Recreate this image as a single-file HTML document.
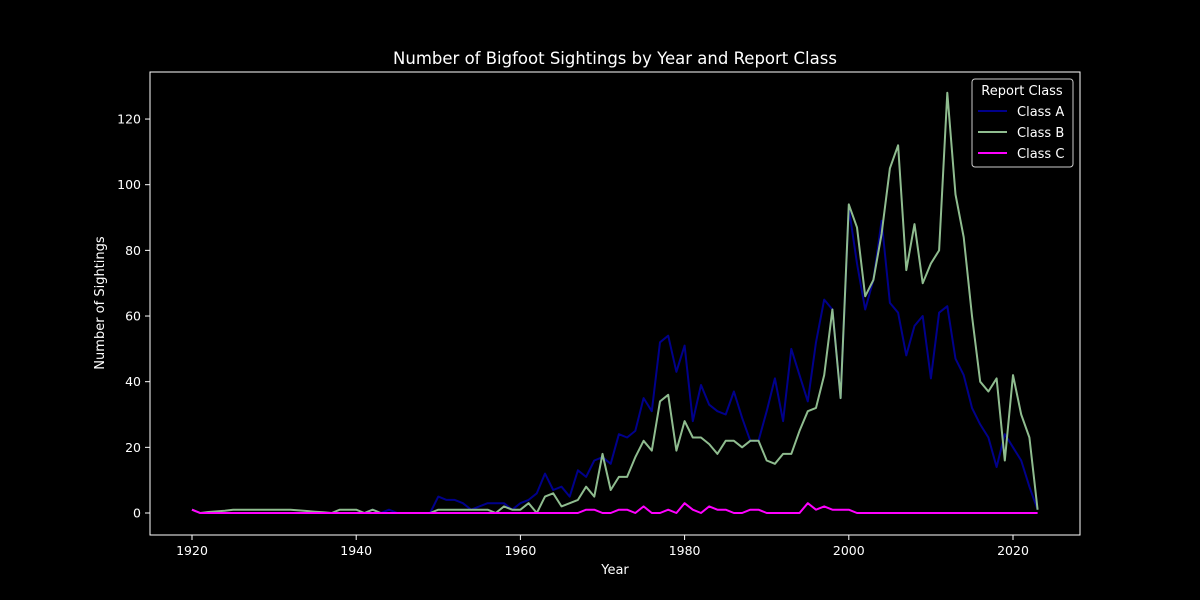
<!DOCTYPE html>
<html><head><meta charset="utf-8"><style>
html,body{margin:0;padding:0;background:#000;}
svg{display:block;font-family:"DejaVu Sans","Liberation Sans",sans-serif;}
</style></head><body>
<svg id="chart" width="1200" height="600" viewBox="0 0 1200 600">
<rect width="1200" height="600" fill="#000"/>
<text x="615" y="64" fill="#fff" font-size="16.5" text-anchor="middle">Number of Bigfoot Sightings by Year and Report Class</text>
<g id="ticks"></g>
<g id="series"></g>
<rect x="150" y="72" width="930" height="463" fill="none" stroke="#fff" stroke-width="1"/>
<text x="615" y="574" fill="#fff" font-size="13" text-anchor="middle">Year</text>
<text x="104" y="303" fill="#fff" font-size="13" text-anchor="middle" transform="rotate(-90 104 303)">Number of Sightings</text>
<g>
<rect x="972" y="79" width="101" height="88" rx="3" fill="#000" stroke="#ccc" stroke-width="1"/>
<text x="1022" y="95" fill="#fff" font-size="13" text-anchor="middle">Report Class</text>
<line x1="978" y1="111" x2="1007" y2="111" stroke="#00008b" stroke-width="2"/>
<text x="1017" y="116" fill="#fff" font-size="13">Class A</text>
<line x1="978" y1="132" x2="1007" y2="132" stroke="#8fbc8f" stroke-width="2"/>
<text x="1017" y="137" fill="#fff" font-size="13">Class B</text>
<line x1="978" y1="153" x2="1007" y2="153" stroke="#ff00ff" stroke-width="2"/>
<text x="1017" y="158" fill="#fff" font-size="13">Class C</text>
</g>
</svg>
<script>
const startYear = 1920;
const classA = [1,0,0,0,0,0,0,0,0,0, 0,0,0,0,0,0,0,0,0,0, 0,0,1,0,1,0,0,0,0,0, 5,4,4,3,1,2,3,3,3,1, 3,4,6,12,7,8,5,13,11,16, 17,15,24,23,25,35,31,52,54,43, 51,28,39,33,31,30,37,29,22,22, 31,41,28,50,42,34,52,65,62,35, 93,76,62,71,89,64,61,48,57,60, 41,61,63,47,42,32,27,23,14,24, 20,16,8,1];
const classB = [1,0,0.3,0.5,0.7,1,1,1,1,1, 1,1,1,0.8,0.6,0.4,0.2,0,1,1, 1,0,1,0,0,0,0,0,0,0, 1,1,1,1,1,1,1,0,2,1, 1,3,0,5,6,2,3,4,8,5, 18,7,11,11,17,22,19,34,36,19, 28,23,23,21,18,22,22,20,22,22, 16,15,18,18,25,31,32,42,62,35, 94,87,66,71,85,105,112,74,88,70, 76,80,128,97,84,60,40,37,41,16, 42,30,23,1];
const classC = [1,0,0,0,0,0,0,0,0,0, 0,0,0,0,0,0,0,0,0,0, 0,0,0,0,0,0,0,0,0,0, 0,0,0,0,0,0,0,0,0,0, 0,0,0,0,0,0,0,0,1,1, 0,0,1,1,0,2,0,0,1,0, 3,1,0,2,1,1,0,0,1,1, 0,0,0,0,0,3,1,2,1,1, 1,0,0,0,0,0,0,0,0,0, 0,0,0,0,0,0,0,0,0,0, 0,0,0,0];
const xTicks = [1920,1940,1960,1980,2000,2020];
const yTicks = [0,20,40,60,80,100,120];

const NS = "http://www.w3.org/2000/svg";
function xs(yr){ return 192 + (yr - 1920) * 8.21; }
function ys(v){ return 513 - v * 3.283; }
const tg = document.getElementById('ticks');
const sg = document.getElementById('series');
function mk(tag, attrs, parent){ const e = document.createElementNS(NS, tag); for (const k in attrs) e.setAttribute(k, attrs[k]); parent.appendChild(e); return e; }
xTicks.forEach(t => {
  const l = mk('line', {x1: xs(t), x2: xs(t), y1: 535, y2: 540, stroke: '#fff'}, tg);
  
  
  const tx = mk('text', {x: xs(t), y: 555, fill: '#fff', 'font-size': 12.5, 'text-anchor': 'middle'}, tg);
  tx.textContent = t;
  
  
});
yTicks.forEach(t => {
  const l = mk('line', {x1: 145, x2: 150, y1: ys(t), y2: ys(t), stroke: '#fff'}, tg);
  
  
  const tx = mk('text', {x: 141, y: ys(t) + 4.5, fill: '#fff', 'font-size': 12.5, 'text-anchor': 'end'}, tg);
  tx.textContent = t;
  
  
});
function line(arr, color, name){
  const d = arr.map((v, i) => (i ? 'L' : 'M') + xs(startYear + i).toFixed(1) + ',' + ys(v).toFixed(1)).join(' ');
  const p = mk('path', {d: d, fill: 'none', stroke: color, 'stroke-width': 2, 'stroke-linejoin': 'round'}, sg);
  
  
}
line(classA, '#00008b', 'class-a-line');
line(classB, '#8fbc8f', 'class-b-line');
line(classC, '#ff00ff', 'class-c-line');
</script>
</body></html>
